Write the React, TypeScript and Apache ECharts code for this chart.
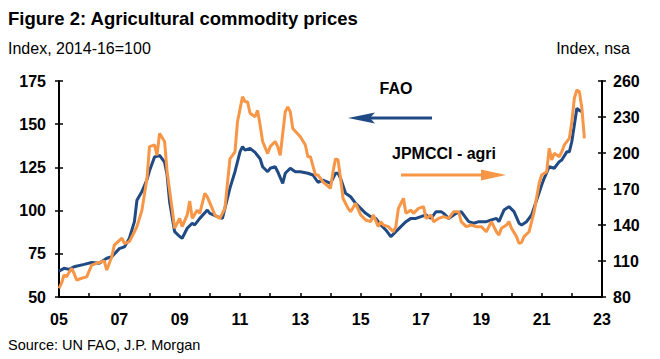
import React, { useEffect, useRef } from "react";
import * as echarts from "echarts";

// FAO food price index (left axis, Index 2014-16=100)
const faoDates = [
  "2005-01","2005-03","2005-05","2005-07","2005-11",
  "2006-02","2006-05","2006-08","2006-10",
  "2007-01","2007-03","2007-05","2007-07","2007-08","2007-10","2007-12",
  "2008-01","2008-03","2008-05","2008-07","2008-08","2008-09","2008-11",
  "2009-01","2009-02","2009-04","2009-06","2009-07","2009-09","2009-12",
  "2010-01","2010-04","2010-06","2010-09","2010-11",
  "2011-01","2011-02","2011-03","2011-05","2011-07","2011-09","2011-10","2011-12",
  "2012-01","2012-03","2012-04","2012-06","2012-07","2012-09","2012-11",
  "2013-01","2013-04","2013-06","2013-08","2013-10",
  "2014-01","2014-03","2014-04","2014-05","2014-07","2014-09","2014-11",
  "2015-01","2015-03","2015-05","2015-07","2015-09","2015-11",
  "2016-01","2016-03","2016-05","2016-07","2016-09","2016-11",
  "2017-01","2017-03","2017-05","2017-07","2017-09","2017-10","2017-12",
  "2018-03","2018-05","2018-07","2018-08","2018-10","2018-12",
  "2019-03","2019-05","2019-07","2019-08","2019-10","2019-12",
  "2020-02","2020-04","2020-05","2020-07","2020-09","2020-11",
  "2021-01","2021-02","2021-04","2021-06","2021-08","2021-09","2021-11","2021-12",
  "2022-01","2022-02","2022-03","2022-04","2022-05"
];
const faoValues = [
  65, 66.6, 66, 67.5, 68.9,
  70, 69.5, 72.4, 73.3,
  78, 79, 84, 93.6, 106, 111, 118,
  123, 131, 132, 128, 120.6, 105, 87.8,
  85, 84, 89.8, 92.7, 91.7, 95.5, 100.3,
  98.4, 96.5, 95.5, 113, 122.5,
  134, 137, 135, 136, 133.7, 130, 125.4, 122.5,
  124.5, 125.4, 122.5, 115.8, 121.6, 124.5, 122.5,
  122.5, 121.6, 120.6, 116.4, 117.7,
  115.8, 121.6, 121.6, 118.7, 110, 108, 104.2,
  101.3, 98.4, 96.5, 95.5, 91.7, 88.8,
  84.9, 87.8, 90.7, 93.6, 95.5, 95.5,
  96.5, 97.5, 95.5, 99.4, 99.4, 98.4, 95.5,
  98.4, 99.4, 95.5, 93.6, 92.7, 93.6,
  93.6, 94.6, 95.5, 93.6, 100.3, 102.3,
  99.4, 92.7, 91.7, 93.6, 97.5, 106.1,
  114.8, 118.7, 125.4, 124.5, 128.3, 129.3, 134, 134,
  140, 149.5, 159.2, 158, 157.2
];

// JPMCCI agriculture index (right axis, Index nsa)
const agriDates = [
  "2005-01","2005-02","2005-03","2005-04","2005-06","2005-07","2005-08","2005-10","2005-12",
  "2006-02","2006-04","2006-07","2006-08","2006-10","2006-11",
  "2007-02","2007-03","2007-05","2007-07","2007-08","2007-10","2007-12",
  "2008-01","2008-03","2008-04","2008-05","2008-07","2008-08","2008-10","2008-11",
  "2009-01","2009-02","2009-04","2009-05","2009-06","2009-08","2009-09","2009-11","2009-12",
  "2010-03","2010-05","2010-07","2010-09","2010-11","2010-12",
  "2011-02","2011-03","2011-04","2011-05","2011-07","2011-08","2011-09","2011-10","2011-12",
  "2012-01","2012-03","2012-04","2012-05","2012-07","2012-08","2012-09","2012-10",
  "2013-01","2013-03","2013-04","2013-05","2013-07","2013-08","2013-10",
  "2014-01","2014-02","2014-03","2014-04","2014-05","2014-06","2014-08","2014-09","2014-11",
  "2015-01","2015-03","2015-05","2015-06","2015-08","2015-09","2015-10","2015-12",
  "2016-02","2016-03","2016-04","2016-06","2016-07","2016-09","2016-10","2016-12",
  "2017-02","2017-03","2017-05","2017-06","2017-08","2017-10","2017-12",
  "2018-02","2018-04","2018-05","2018-07","2018-09","2018-11",
  "2019-01","2019-03","2019-04","2019-05","2019-07","2019-08","2019-09","2019-11","2019-12",
  "2020-01","2020-03","2020-04","2020-05","2020-06","2020-08","2020-10","2020-12",
  "2021-01","2021-03","2021-04","2021-05","2021-06","2021-08","2021-09","2021-10","2021-12",
  "2022-01","2022-02","2022-03","2022-04","2022-05","2022-06"
];
const agriValues = [
  87.2, 91.5, 98.3, 96.8, 103.9, 99.7, 94.1, 95.6, 96.8,
  106.6, 108.1, 110, 102.5, 113.6, 123.2,
  129, 124.6, 126.1, 134.4, 138.6, 152.4, 178.9,
  205.3, 206.7, 198.1, 216.4, 209.6, 184.4, 153.4, 137.3,
  145.5, 138.6, 148.4, 159.9, 145.5, 152.4, 149.7, 166.4, 163.5,
  148.4, 145.5, 153.9, 195.2, 201, 226,
  246.9, 242.7, 242.7, 233.1, 230.2, 235.5, 223.3, 209.6, 199.5,
  205.3, 209.6, 205.3, 198.1, 234.4, 238.4, 234.4, 220.5,
  213.6, 206.7, 196.9, 196.9, 181.7, 181.7, 176,
  170.6, 184.4, 195.2, 194.3, 178.9, 162.1, 153.9, 151.1, 158,
  148.4, 144.2, 142.8, 148.4, 138.6, 142.8, 140, 138.6,
  134.4, 138.6, 153.9, 162.2, 149.7, 152.4, 149.7, 153.9,
  155.3, 145.5, 148.4, 142.8, 145.5, 147, 145.5,
  151.1, 151.1, 142.8, 138.6, 140, 138.6,
  138.6, 134.4, 138.6, 142.8, 134.4, 131.7, 137.3, 140, 142.8,
  137.3, 130.3, 124.6, 125.6, 130.3, 134.4, 151.1, 174.8,
  181.7, 184.4, 203.8, 194.2, 199.8, 196.9, 201, 206.7, 212.2,
  226, 245.6, 252.5, 251.1, 237.2, 212.2
];

const leftTicks = { min: 50, max: 175, interval: 25 };
const rightTicks = { min: 80, max: 260, interval: 30 };
const xRange = { min: 2005, max: 2023, interval: 1 };

const toYear = (s: string) => {
  const [y, m] = s.split("-").map(Number);
  return y + (m - 1) / 12;
};

const FONT = '"Liberation Sans", Arial, sans-serif';
const BLUE = "#1f4a84";
const ORANGE = "#f79646";

export default function App() {
  const ref = useRef<HTMLDivElement>(null);
  useEffect(() => {
    document.body.style.margin = "0";
    const chart = echarts.init(ref.current!, null, { renderer: "svg" });
    const labelStyle = { color: "#000", fontFamily: FONT, fontWeight: "bold" as const, fontSize: 16 };
    const axisLineStyle = { show: true, lineStyle: { color: "#000", width: 2 } };
    chart.setOption({
      animation: false,
      grid: { left: 59, right: 58, top: 81, bottom: 62 },
      xAxis: {
        type: "value",
        ...xRange,
        axisLine: { ...axisLineStyle, onZero: false },
        axisTick: { show: true, inside: true, length: 4, lineStyle: { color: "#000", width: 1.5 } },
        splitLine: { show: false },
        axisLabel: {
          ...labelStyle,
          margin: 14,
          showMinLabel: true,
          showMaxLabel: true,
          formatter: (v: number) => {
            const y = Math.round(v);
            return (y - 2005) % 2 === 0 ? String(y).slice(2) : "";
          },
        },
      },
      yAxis: [
        {
          type: "value", position: "left", ...leftTicks,
          axisLine: axisLineStyle,
          axisTick: { show: true, length: 4, lineStyle: { color: "#000", width: 1.5 } },
          splitLine: { show: false },
          axisLabel: { ...labelStyle, margin: 13 },
        },
        {
          type: "value", position: "right", ...rightTicks,
          axisLine: axisLineStyle,
          axisTick: { show: true, length: 4, lineStyle: { color: "#000", width: 1.5 } },
          splitLine: { show: false },
          axisLabel: { ...labelStyle, margin: 11 },
        },
        {
          type: "value", position: "left", ...leftTicks,
          axisLine: { show: false },
          axisTick: { show: true, inside: true, length: 4, lineStyle: { color: "#000", width: 1.5 } },
          splitLine: { show: false },
          axisLabel: { show: false },
        },
        {
          type: "value", position: "right", ...rightTicks,
          axisLine: { show: false },
          axisTick: { show: true, inside: true, length: 4, lineStyle: { color: "#000", width: 1.5 } },
          splitLine: { show: false },
          axisLabel: { show: false },
        },
      ],
      series: [
        {
          name: "FAO",
          type: "line",
          yAxisIndex: 0,
          showSymbol: false,
          data: faoDates.map((d, i) => [toYear(d), faoValues[i]]),
          lineStyle: { color: BLUE, width: 3 },
          itemStyle: { color: BLUE },
          z: 3,
        },
        {
          name: "JPMCCI - agri",
          type: "line",
          yAxisIndex: 1,
          showSymbol: false,
          data: agriDates.map((d, i) => [toYear(d), agriValues[i]]),
          lineStyle: { color: ORANGE, width: 3 },
          itemStyle: { color: ORANGE },
          z: 4,
        },
      ],
      graphic: [
        { type: "text", left: 8, top: 9, style: { text: "Figure 2: Agricultural commodity prices", fill: "#000", font: `bold 18.5px ${FONT}` } },
        { type: "text", left: 8, top: 40, style: { text: "Index, 2014-16=100", fill: "#000", font: `16px ${FONT}` } },
        { type: "text", right: 30, top: 40, style: { text: "Index, nsa", fill: "#000", font: `16px ${FONT}` } },
        { type: "text", left: 8, top: 337, style: { text: "Source: UN FAO, J.P. Morgan", fill: "#000", font: `14.5px ${FONT}` } },
        { type: "text", x: 396, y: 88, style: { text: "FAO", fill: "#000", font: `bold 16px ${FONT}`, align: "center", verticalAlign: "middle" } },
        { type: "text", x: 444, y: 153, style: { text: "JPMCCI - agri", fill: "#000", font: `bold 16px ${FONT}`, align: "center", verticalAlign: "middle" } },
        { type: "line", shape: { x1: 432, y1: 118, x2: 368, y2: 118 }, style: { stroke: BLUE, lineWidth: 3 } },
        { type: "polygon", shape: { points: [[348, 118], [375, 112.5], [370, 118], [375, 123.5]] }, style: { fill: BLUE } },
        { type: "line", shape: { x1: 401, y1: 175, x2: 484, y2: 175 }, style: { stroke: ORANGE, lineWidth: 3 } },
        { type: "polygon", shape: { points: [[506, 175], [481, 169.5], [481, 180.5]] }, style: { fill: ORANGE } },
      ],
    });
    return () => chart.dispose();
  }, []);
  return <div ref={ref} style={{ width: 660, height: 359 }} />;
}
